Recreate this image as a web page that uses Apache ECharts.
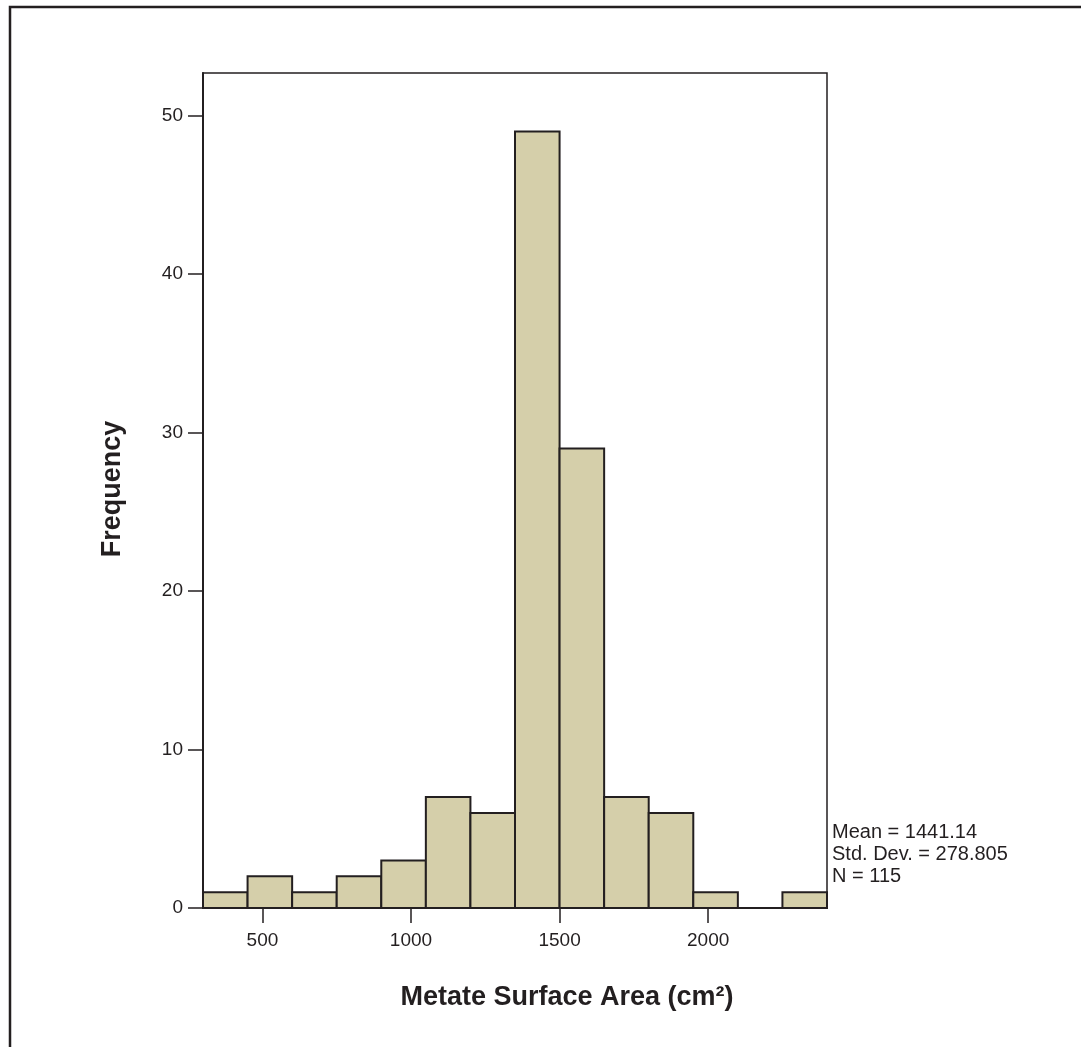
<!DOCTYPE html>
<html>
<head>
<meta charset="utf-8">
<script src="https://cdn.jsdelivr.net/npm/echarts@6/dist/echarts.min.js"></script>
<style>
  html, body { margin: 0; padding: 0; background: #fff; }
  #main { width: 1081px; height: 1047px; }
</style>
</head>
<body>
<div id="main"></div>
<script>
// histogram bins (cm²), width 150
var binStart = [300, 450, 600, 750, 900, 1050, 1200, 1350, 1500, 1650, 1800, 1950, 2100, 2250];
var binEnd   = [450, 600, 750, 900, 1050, 1200, 1350, 1500, 1650, 1800, 1950, 2100, 2250, 2400];
var counts   = [1, 2, 1, 2, 3, 7, 6, 49, 29, 7, 6, 1, 0, 1];
var xTicks = [500, 1000, 1500, 2000];
var yTicks = [0, 10, 20, 30, 40, 50];
var statLines = ['Mean = 1441.14', 'Std. Dev. = 278.805', 'N = 115'];

var font = '"Liberation Sans", Arial, sans-serif';
var ink = '#231f20';

var data = [];
for (var i = 0; i < counts.length; i++) {
  data.push([binStart[i], binEnd[i], counts[i]]);
}

var chart = echarts.init(document.getElementById('main'));
chart.setOption({
  animation: false,
  grid: {
    left: 203, top: 73, width: 624, height: 835,
    show: true, borderColor: ink, borderWidth: 1.5
  },
  xAxis: {
    type: 'value', min: 300, max: 2400,
    axisLine: { show: true, lineStyle: { color: ink, width: 2 } },
    axisTick: { show: true, customValues: xTicks, length: 15, lineStyle: { color: ink, width: 1.5 } },
    axisLabel: { customValues: xTicks, color: ink, fontSize: 19, fontFamily: font, margin: 23,
      formatter: function (v) { return String(v); } },
    splitLine: { show: false }
  },
  yAxis: {
    type: 'value', min: 0, max: 52.7,
    axisLine: { show: true, lineStyle: { color: ink, width: 2 } },
    axisTick: { show: true, customValues: yTicks, length: 15, lineStyle: { color: ink, width: 1.5 } },
    axisLabel: { customValues: yTicks, color: ink, fontSize: 19, fontFamily: font, margin: 20,
      formatter: function (v) { return String(v); } },
    splitLine: { show: false }
  },
  series: [{
    type: 'custom',
    data: data,
    encode: { x: [0, 1], y: 2 },
    renderItem: function (params, api) {
      var top = api.coord([api.value(0), api.value(2)]);
      var bot = api.coord([api.value(1), 0]);
      return {
        type: 'rect',
        shape: { x: top[0], y: top[1], width: bot[0] - top[0], height: bot[1] - top[1] },
        style: { fill: '#d5cfaa', stroke: ink, lineWidth: 2 }
      };
    }
  }],
  graphic: [
    { type: 'rect', shape: { x: 10, y: 7, width: 1100, height: 1100 },
      style: { fill: 'none', stroke: ink, lineWidth: 2.5 }, silent: true },
    { type: 'text', x: 113, y: 489, rotation: Math.PI / 2,
      style: { text: 'Frequency', font: 'bold 27px ' + font, fill: ink, align: 'center', verticalAlign: 'middle' } },
    { type: 'text', x: 567, y: 998,
      style: { text: 'Metate Surface Area (cm²)', font: 'bold 27px ' + font, fill: ink, align: 'center', verticalAlign: 'middle' } },
    { type: 'text', x: 832, y: 821,
      style: { text: statLines.join('\n'), font: '20px ' + font, lineHeight: 22, fill: ink, align: 'left', verticalAlign: 'top' } }
  ]
});
</script>
</body>
</html>
